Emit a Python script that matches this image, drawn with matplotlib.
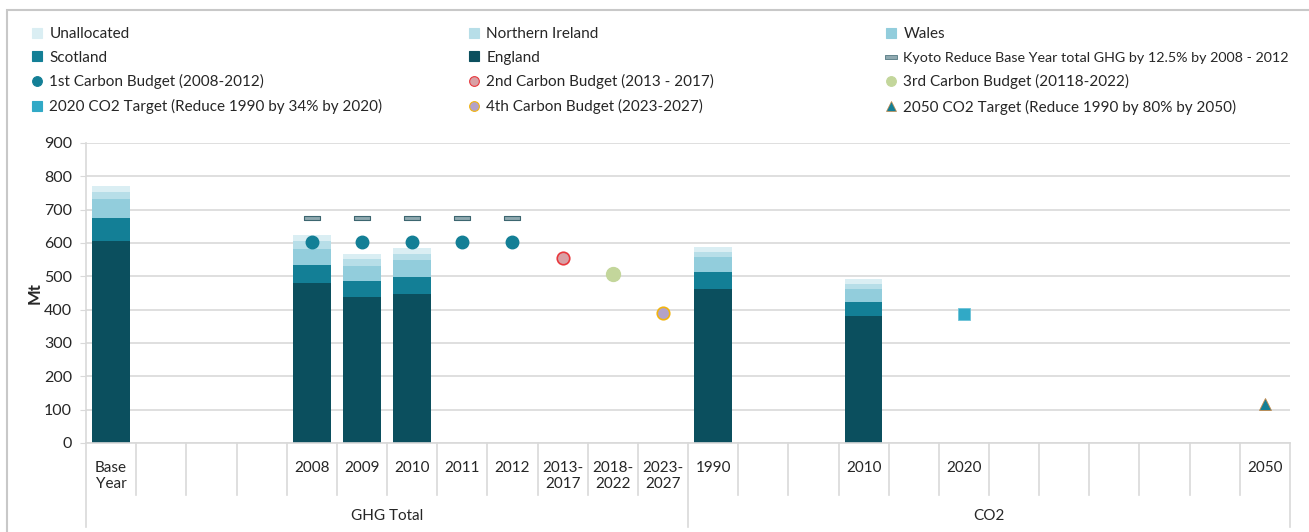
import numpy as np
import matplotlib
import matplotlib.pyplot as plt
from matplotlib.lines import Line2D
from matplotlib.patches import Rectangle

plt.switch_backend('agg')
plt.rcParams['font.family'] = ['Lato', 'DejaVu Sans']

# categories (24 slots, two groups of 12)
categories = ['Base\nYear', '', '', '', '2008', '2009', '2010', '2011', '2012',
              '2013-\n2017', '2018-\n2022', '2023-\n2027',
              '1990', '', '', '2010', '', '2020', '', '', '', '', '', '2050']
groups = ['GHG Total', 'CO2']

# stacked bars, Mt (NaN = no bar)
nan = np.nan
england = [606, nan, nan, nan, 480, 437, 446, nan, nan, nan, nan, nan,
           462, nan, nan, 381, nan, nan, nan, nan, nan, nan, nan, nan]
scotland = [68, nan, nan, nan, 53, 49, 53, nan, nan, nan, nan, nan,
            51, nan, nan, 42, nan, nan, nan, nan, nan, nan, nan, nan]
wales = [58, nan, nan, nan, 49, 44, 49, nan, nan, nan, nan, nan,
         44, nan, nan, 39, nan, nan, nan, nan, nan, nan, nan, nan]
n_ireland = [22, nan, nan, nan, 23, 21, 19, nan, nan, nan, nan, nan,
             15, nan, nan, 15, nan, nan, nan, nan, nan, nan, nan, nan]
unallocated = [16, nan, nan, nan, 18, 16, 17, nan, nan, nan, nan, nan,
               15, nan, nan, 14, nan, nan, nan, nan, nan, nan, nan, nan]

# targets
kyoto_idx = [4, 5, 6, 7, 8]
kyoto_val = [675, 675, 675, 675, 675]
cb1_idx = [4, 5, 6, 7, 8]
cb1_val = [603, 603, 603, 603, 603]
cb2_idx, cb2_val = [9], [556]
cb3_idx, cb3_val = [10], [508]
cb4_idx, cb4_val = [11], [389]
co2_2020_idx, co2_2020_val = [17], [387]
co2_2050_idx, co2_2050_val = [23], [116]

c_eng = '#0b4f5e'
c_sco = '#137f96'
c_wal = '#92cddc'
c_ni = '#b7dee8'
c_un = '#daeef3'
grid_c = '#d9d9d9'
txt_c = '#262626'

W, H = 1309, 532
fig = plt.figure(figsize=(W / 100, H / 100), dpi=100)
ax = fig.add_axes([86 / W, (H - 443) / H, (1290 - 86) / W, 300 / H])

x = np.arange(len(categories))
bw = 0.75
bottom = np.zeros(len(x))
for vals, col in [(england, c_eng), (scotland, c_sco), (wales, c_wal),
                  (n_ireland, c_ni), (unallocated, c_un)]:
    v = np.array(vals, dtype=float)
    ax.bar(x, np.nan_to_num(v), bw, bottom=bottom, color=col, zorder=2)
    bottom = bottom + np.nan_to_num(v)

dash = [(-2, -0.5), (2, -0.5), (2, 0.5), (-2, 0.5), (-2, -0.5)]
ax.plot(kyoto_idx, kyoto_val, ls='none', marker=dash, ms=12, mfc='#8fa9b0',
        mec='#3c6670', mew=0.8, zorder=3)
ax.plot(cb1_idx, cb1_val, ls='none', marker='o', ms=9, mfc=c_sco, mec=c_sco, zorder=3)
ax.plot(cb2_idx, cb2_val, ls='none', marker='o', ms=9, mfc='#d9a0a5', mec='#e8383d',
        mew=1.2, zorder=3)
ax.plot(cb3_idx, cb3_val, ls='none', marker='o', ms=10, mfc='#c3d69b', mec='#c3d69b', zorder=3)
ax.plot(cb4_idx, cb4_val, ls='none', marker='o', ms=9, mfc='#b3a2c7', mec='#f2b40f',
        mew=1.2, zorder=3)
ax.plot(co2_2020_idx, co2_2020_val, ls='none', marker='s', ms=9, mfc='#31a9c6',
        mec='#6cc3d8', mew=0.6, zorder=3)
ax.plot(co2_2050_idx, co2_2050_val, ls='none', marker='^', ms=9, mfc=c_sco,
        mec='#c58a4a', mew=0.6, zorder=3)

ax.set_xlim(-0.5, len(x) - 0.5)
ax.set_ylim(0, 900)
ax.set_yticks(np.arange(0, 901, 100))
ax.grid(axis='y', color=grid_c, lw=1.2, zorder=0)
for s in ['top', 'right']:
    ax.spines[s].set_visible(False)
ax.spines['left'].set_color(grid_c)
ax.spines['bottom'].set_color(grid_c)
ax.spines['left'].set_linewidth(1.2)
ax.spines['bottom'].set_linewidth(1.2)
ax.tick_params(axis='y', length=4, color=grid_c, labelsize=11.5, labelcolor=txt_c, pad=6)
ax.set_xticks(x, categories)
ax.tick_params(axis='x', length=0, labelsize=11, labelcolor=txt_c, pad=13)
ax.set_ylabel('Mt', fontsize=12, fontweight='bold', labelpad=1, color=txt_c)

# multi-level category axis lines
tr = ax.get_xaxis_transform()
for b in range(len(x) + 1):
    depth = 84 if b % 12 == 0 else 52
    ax.plot([b - 0.5, b - 0.5], [0, -depth / 300], transform=tr, color=grid_c,
            lw=1.2, clip_on=False)
for gi, g in enumerate(groups):
    ax.text(gi * 12 + 5.5, -(516 - 443) / 300, g, transform=tr, ha='center', va='center',
            fontsize=11, color=txt_c)

# legend, three columns placed separately
def mk(marker, mfc, mec=None, ms=7, mew=0.8):
    return Line2D([], [], ls='none', marker=marker, ms=ms, mfc=mfc,
                  mec=mec if mec else mfc, mew=mew)

cols = [
    [(mk('s', c_un), 'Unallocated'),
     (mk('s', c_sco), 'Scotland'),
     (mk('o', c_sco), '1st Carbon Budget (2008-2012)'),
     (mk('s', '#31a9c6'), '2020 CO2 Target (Reduce 1990 by 34% by 2020)')],
    [(mk('s', c_ni), 'Northern Ireland'),
     (mk('s', c_eng), 'England'),
     (mk('o', '#d9a0a5', '#e8383d'), '2nd Carbon Budget (2013 - 2017)'),
     (mk('o', '#b3a2c7', '#f2b40f'), '4th Carbon Budget (2023-2027)')],
    [(mk('s', c_wal), 'Wales'),
     (mk(dash, '#8fa9b0', '#3c6670', ms=9, mew=0.5), 'Kyoto Reduce Base Year total GHG by 12.5% by 2008 - 2012'),
     (mk('o', '#c3d69b'), '3rd Carbon Budget (20118-2022)'),
     (mk('^', c_sco, '#c58a4a', mew=0.5), '2050 CO2 Target (Reduce 1990 by 80% by 2050)')],
]
col_x = [31, 468, 885]
for ci, (cx, entries) in enumerate(zip(col_x, cols)):
    leg = fig.legend([e[0] for e in entries], [e[1] for e in entries],
                     loc='upper left', bbox_to_anchor=(cx / W, 1 - 27 / H),
                     frameon=False, fontsize=11, handlelength=0.8, handletextpad=0.4,
                     labelspacing=0.63 if ci < 2 else 0.67,
                     borderaxespad=0, borderpad=0)
    for t in leg.get_texts():
        t.set_color(txt_c)
        if t.get_text().startswith('Kyoto'):
            t.set_fontsize(10.3)

# outer chart border
fig.patches.append(Rectangle((7 / W, -0.1), 1.2, (H - 10) / H + 0.1,
                             transform=fig.transFigure, fill=False,
                             ec='#c8c8c8', lw=1.5))

fig.savefig('out.png', dpi=100)
